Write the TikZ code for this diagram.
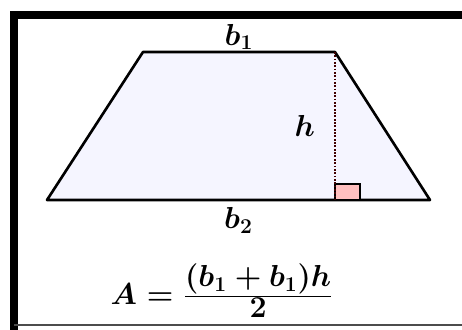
\documentclass[tikz,border=0pt]{standalone}
\usepackage{amsmath, amssymb}
\usepackage{bm}
\usepackage{xcolor}
\usetikzlibrary{positioning, calc}

\begin{document}
\begin{tikzpicture}[x=0.02cm, y=-0.02cm,
    lbl/.style={font=\fontsize{17}{19}\selectfont\boldmath, inner sep=1pt}]
  \useasboundingbox (0,0) rectangle (462,329);
  % 边框
  \draw[line width=4.5pt, line join=miter] (470,15) -- (14,15) -- (14,335);
  \draw[line width=0.8pt, black!70] (14,325) -- (470,325);
  % 梯形顶点
  \coordinate (tl) at (143,52);
  \coordinate (tr) at (335,52);
  \coordinate (br) at (430,200);
  \coordinate (bl) at (47,200);
  \coordinate (foot) at (335,200);
  % 梯形
  \filldraw[fill=blue!4, draw=black, line width=1.5pt, line join=round]
    (bl) -- (tl) -- (tr) -- (br) -- cycle;
  % 直角标记
  \filldraw[fill=red!25, draw=black, line width=1.1pt] (foot) rectangle ++(25,-16);
  % 高
  \draw[red!25!black, line width=1.6pt, dash pattern=on 1pt off 0.9pt] (tr) -- (foot);
  % 标注
  \path (tl) -- (tr) node[midway, above=0pt, lbl] (b1) {$b_1$};
  \path (bl) -- (br) node[midway, below=3pt, lbl] (b2) {$b_2$};
  \path (tr) -- (foot) node[midway, left=0.36cm, lbl] (h) {$h$};
  % 面积公式
  \node[lbl, font=\fontsize{18}{20}\selectfont\boldmath] (area) at (222,291)
    {$A = \frac{\displaystyle (b_1 + b_1)h}{\displaystyle 2}$};
\end{tikzpicture}
\end{document}
